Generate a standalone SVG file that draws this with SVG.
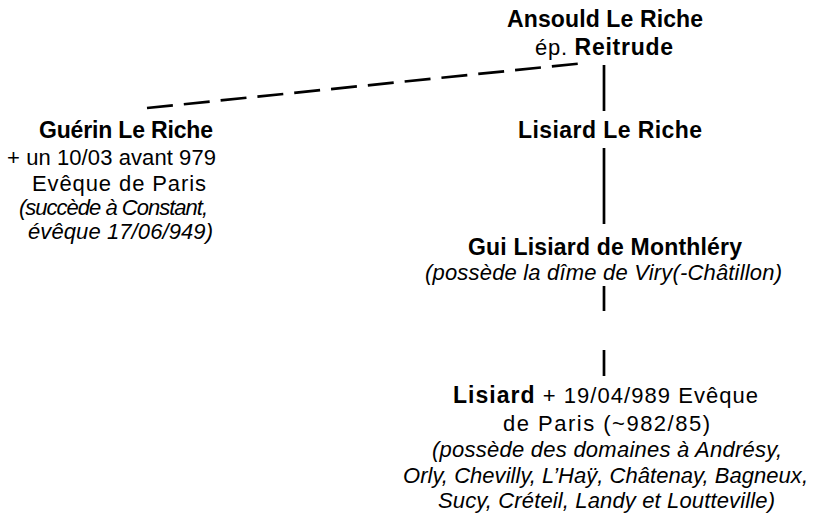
<svg xmlns="http://www.w3.org/2000/svg" width="813" height="516" viewBox="0 0 813 516">
<style>
text{font-family:"Liberation Sans",Arial,sans-serif;fill:#000;font-size:22px}
.b{font-weight:bold;font-size:23px}
.i{font-style:italic}
.c{stroke:#000;stroke-width:2.7;fill:none}
.d{stroke-dasharray:26,11}
</style>
<rect width="813" height="516" fill="#fff"/>
<g id="connectors">
<line class="c d" x1="147" y1="108" x2="585" y2="63"/>
<line class="c" x1="604" y1="65" x2="604" y2="111"/>
<line class="c" x1="604" y1="148" x2="604" y2="224"/>
<line class="c" x1="604" y1="286" x2="604" y2="311"/>
<line class="c" x1="604" y1="350" x2="604" y2="376"/>
</g>
<g id="ansould">
<text class="b" x="507" y="27" textLength="196">Ansould Le Riche</text>
<text x="535" y="55" textLength="138">ép. <tspan class="b">Reitrude</tspan></text>
</g>
<g id="guerin">
<text class="b" x="39" y="138" textLength="174">Guérin Le Riche</text>
<text x="7" y="165" textLength="209">+ un 10/03 avant 979</text>
<text x="32" y="191" textLength="174">Evêque de Paris</text>
<text class="i" x="19" y="215" textLength="189">(succède à Constant,</text>
<text class="i" x="28" y="239" textLength="185">évêque 17/06/949)</text>
</g>
<g id="lisiard-le-riche">
<text class="b" x="518" y="138" textLength="184">Lisiard Le Riche</text>
</g>
<g id="gui">
<text class="b" x="468" y="255" textLength="274">Gui Lisiard de Monthléry</text>
<text class="i" x="425" y="280" textLength="357">(possède la dîme de Viry(-Châtillon)</text>
</g>
<g id="lisiard">
<text x="453" y="403" textLength="305"><tspan class="b">Lisiard</tspan> + 19/04/989 Evêque</text>
<text x="503" y="431" textLength="207">de Paris (~982/85)</text>
<text class="i" x="432" y="457" textLength="350">(possède des domaines à Andrésy,</text>
<text class="i" x="403" y="483" textLength="405">Orly, Chevilly, L’Haÿ, Châtenay, Bagneux,</text>
<text class="i" x="438" y="508" textLength="337">Sucy, Créteil, Landy et Loutteville)</text>
</g>
</svg>
